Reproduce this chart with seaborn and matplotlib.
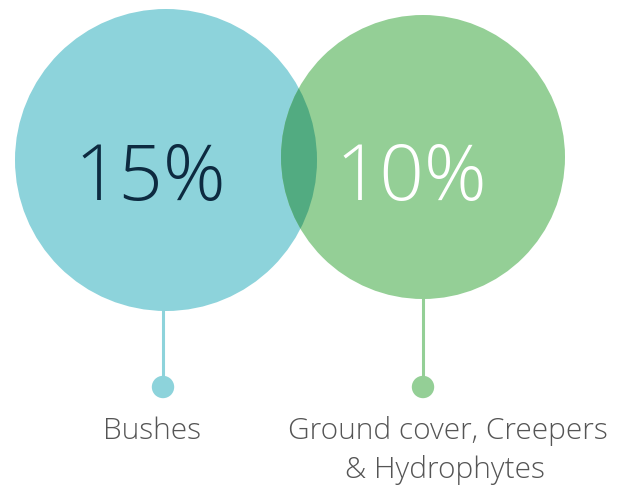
import matplotlib
matplotlib.use('Agg')
import matplotlib.pyplot as plt
from matplotlib.patches import Circle
import seaborn as sns
import pandas as pd

# data
categories = ['Bushes', 'Ground cover, Creepers\n& Hydrophytes']
shares = [15, 10]
colors = ['#8dd3db', '#94cf96']
text_colors = ['#0d2a40', '#ffffff']

sns.set_style('white')
plt.rcParams['font.family'] = ['Open Sans', 'DejaVu Sans']

fig = plt.figure(figsize=(6.36, 4.86), dpi=100)
ax = fig.add_axes([0, 0, 1, 1])
ax.set_xlim(0, 636)
ax.set_ylim(486, 0)
ax.set_aspect('equal')
ax.axis('off')

# layout (pixels)
centers = [(166, 160), (423, 157)]
radii = [151, 142]
stem_x = [163, 423]
dot_y = 387

circles = []
for (cx, cy), r, c in zip(centers, radii, colors):
    p = Circle((cx, cy), r, facecolor=c, edgecolor='none', zorder=1)
    ax.add_patch(p)
    circles.append(p)

# overlap drawn as multiply blend of the two colours
c1 = matplotlib.colors.to_rgb(colors[0])
c2 = matplotlib.colors.to_rgb(colors[1])
mix = tuple(a * b for a, b in zip(c1, c2))
ov = Circle(centers[1], radii[1], facecolor=mix, edgecolor='none', zorder=2)
ax.add_patch(ov)
ov.set_clip_path(circles[0])

# stems and dots
for i, (sx, (cx, cy), r) in enumerate(zip(stem_x, centers, radii)):
    ax.plot([sx, sx], [cy + r - 2, dot_y], color=colors[i], lw=2.2, zorder=0)

dots = pd.DataFrame({'x': stem_x, 'y': [dot_y] * 2, 'cat': categories})
sns.scatterplot(data=dots, x='x', y='y', hue='cat', palette=colors, s=260,
                edgecolor='none', legend=False, ax=ax, zorder=3)

# percentages
pct_x = [150, 411]
for px, v, tc in zip(pct_x, shares, text_colors):
    ax.text(px, 200, f'{v}%', ha='center', va='baseline',
            fontsize=56, fontweight=300, color=tc, zorder=4)

# labels (one text per line)
label_x = [[152], [448, 445]]
for xs, lab in zip(label_x, categories):
    for j, (lx, line) in enumerate(zip(xs, lab.split('\n'))):
        ax.text(lx, 439 + 39 * j, line, ha='center', va='baseline', fontsize=21.5,
                fontweight=300, color='#555555', zorder=4)

fig.savefig('out.png', dpi=100)
